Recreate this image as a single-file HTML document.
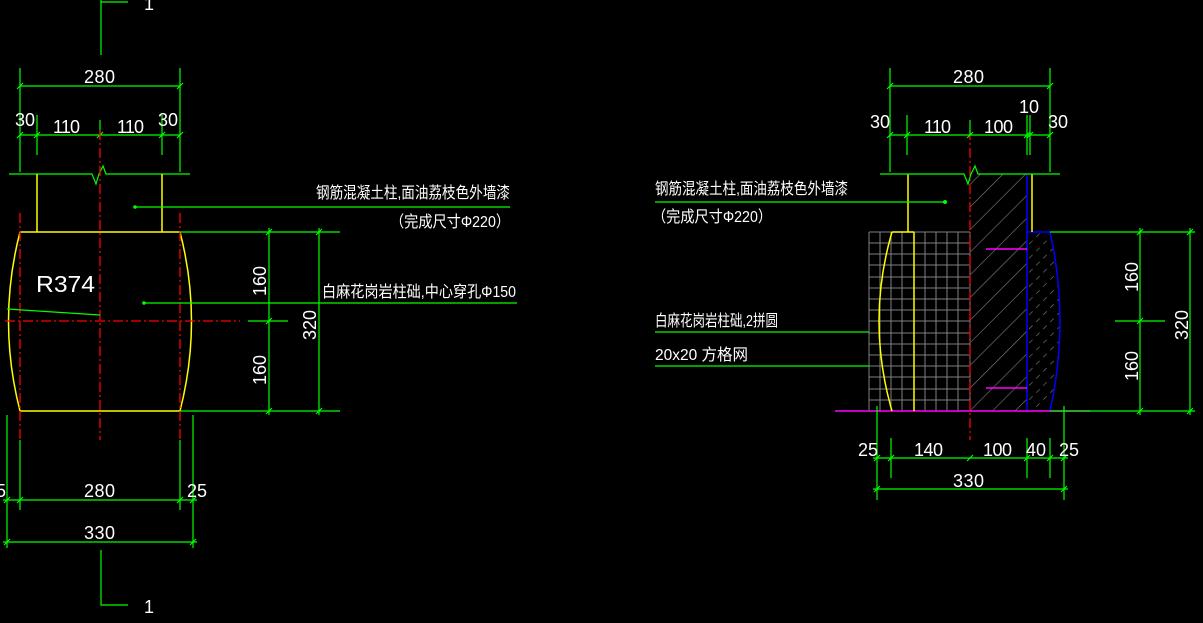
<!DOCTYPE html>
<html><head><meta charset="utf-8"><style>
html,body{margin:0;padding:0;background:#000;}
svg{display:block}
text{fill:#fff;font-family:"Liberation Sans","Noto Sans CJK SC",sans-serif;}
.g{stroke:#00ff00;stroke-width:1.2;fill:none}
.y{stroke:#ffff00;stroke-width:1.5;fill:none}
.r{stroke:#ff0000;stroke-width:1.3;fill:none;stroke-dasharray:10,3,2,3}
.gr{stroke:#808080;stroke-width:1;fill:none}
.b{stroke:#0000ff;stroke-width:1.5;fill:none}
.m{stroke:#ff00ff;stroke-width:1.5;fill:none}
.t{font-size:18px}
.c{font-size:16px}
</style></head><body>
<svg width="1203" height="623" viewBox="0 0 1203 623" xmlns="http://www.w3.org/2000/svg">
<defs>
<pattern id="h" width="16" height="16" patternUnits="userSpaceOnUse" patternTransform="rotate(45)">
<line x1="0" y1="0" x2="0" y2="16" stroke="#808080" stroke-width="1.2"/>
</pattern>
<pattern id="h2" width="10" height="10" patternUnits="userSpaceOnUse" patternTransform="rotate(45)">
<line x1="0" y1="0" x2="0" y2="5" stroke="#808080" stroke-width="1.2"/>
</pattern>
</defs>
<!-- LEFT DRAWING -->
<path class="g" d="M101 0V55M101 2H128M101 550V605H128"/>
<text x="144" y="10" class="t">1</text>
<text x="144" y="613" class="t">1</text>
<path class="g" d="M20 68V172M180 68V172M20 86H180M37 115V155M162 115V155M20 135H180M100 120V135"/>
<path class="g" d="M17 89l6-6M177 89l6-6M17 138l6-6M34 138l6-6M97 138l6-6M159 138l6-6M177 138l6-6"/>
<text x="84" y="83" class="t" textLength="31">280</text>
<text x="15" y="126" class="t">30</text>
<text x="53" y="133" class="t" textLength="27">110</text>
<text x="117" y="133" class="t" textLength="27">110</text>
<text x="158" y="126" class="t">30</text>
<path class="g" d="M9 174H92l4 10 3-10 4-8 3 8H190"/>
<path class="y" d="M37 174V232M162 174V232M20 232H180M20 411H180"/>
<path class="y" d="M20 232Q-3 321 20 411M180 232Q203 321 180 411"/>
<path class="r" d="M100 130V440M20 213V440M180 213V440M5 321H240"/>
<text x="36" y="292" style="font-size:23px" textLength="59" lengthAdjust="spacingAndGlyphs">R374</text>
<path class="g" d="M7 309L100 315"/>
<circle cx="135" cy="207" r="1.8" fill="#0f0"/>
<path class="g" d="M135 207H510"/>
<text x="316" y="198" class="c" textLength="194" lengthAdjust="spacingAndGlyphs">钢筋混凝土柱,面油荔枝色外墙漆</text>
<text x="390" y="227" class="c" textLength="120" lengthAdjust="spacingAndGlyphs">（完成尺寸Φ220）</text>
<circle cx="144" cy="303" r="1.8" fill="#0f0"/>
<path class="g" d="M144 303H517"/>
<text x="322" y="297" class="c" textLength="194" lengthAdjust="spacingAndGlyphs">白麻花岗岩柱础,中心穿孔Φ150</text>
<path class="g" d="M180 232H340M180 411H340M269 228V415M319 228V415M248 321H288"/>
<path class="g" d="M266 235l6-6M316 235l6-6M266 324l6-6M266 414l6-6M316 414l6-6"/>
<text transform="translate(266,296) rotate(-90)" class="t">160</text>
<text transform="translate(266,385) rotate(-90)" class="t">160</text>
<text transform="translate(316,340) rotate(-90)" class="t">320</text>
<path class="g" d="M7 415V548M193 415V548M20 440V510M180 440V510M3 500H197M3 542H197"/>
<path class="g" d="M4 503l6-6M17 503l6-6M177 503l6-6M190 503l6-6M4 545l6-6M190 545l6-6"/>
<text x="-4" y="497" class="t">5</text>
<text x="84" y="497" class="t" textLength="31">280</text>
<text x="187" y="497" class="t">25</text>
<text x="84" y="539" class="t" textLength="31">330</text>
<!-- RIGHT DRAWING -->
<g class="gr">
<path d="M869 232V411M880 232V411M891 232V411M902 232V411M914 232V411M925 232V411M936 232V411M947 232V411M958 232V411M970 232V411"/>
<path d="M869 232H970M869 243H970M869 254H970M869 265H970M869 277H970M869 288H970M869 299H970M869 310H970M869 321H970M869 333H970M869 344H970M869 355H970M869 366H970M869 377H970M869 389H970M869 400H970M869 411H970"/>
</g>
<rect x="970" y="174" width="57" height="237" fill="url(#h)"/>
<path d="M1027 232H1050Q1070 321 1050 411H1027Z" fill="url(#h2)"/>
<path class="b" d="M1027 174V411M1027 232H1050Q1070 321 1050 411"/>
<path class="m" d="M835 411H1090M986 249H1027M986 388H1027"/>
<path class="y" d="M908 174V232M1032 174V232M892 232H914M914 232V411M892 232Q866 321 892 411"/>
<path class="r" d="M970 130V440"/>
<path class="g" d="M890 68V172M1050 68V172M890 86H1050M907 115V155M1027 115V155M1030 115V155M890 135H1050M970 120V135"/>
<path class="g" d="M887 89l6-6M1047 89l6-6M887 138l6-6M904 138l6-6M967 138l6-6M1024 138l6-6M1027 138l6-6M1047 138l6-6"/>
<text x="953" y="83" class="t" textLength="31">280</text>
<text x="870" y="128" class="t">30</text>
<text x="924" y="133" class="t" textLength="27">110</text>
<text x="984" y="133" class="t" textLength="29">100</text>
<text x="1019" y="113" class="t">10</text>
<text x="1048" y="128" class="t">30</text>
<path class="g" d="M880 174H964l4 10 3-10 4-8 3 8H1060"/>
<text x="655" y="194" class="c" textLength="193" lengthAdjust="spacingAndGlyphs">钢筋混凝土柱,面油荔枝色外墙漆</text>
<path class="g" d="M655 202H945"/>
<circle cx="945" cy="202" r="2" fill="#0f0"/>
<text x="652" y="222" class="c" textLength="120" lengthAdjust="spacingAndGlyphs">（完成尺寸Φ220）</text>
<text x="655" y="326" class="c" textLength="123" lengthAdjust="spacingAndGlyphs">白麻花岗岩柱础,2拼圆</text>
<path class="g" d="M655 332H869M655 366H869"/>
<text x="655" y="360" class="c" textLength="93" lengthAdjust="spacingAndGlyphs">20x20 方格网</text>
<path class="g" d="M1050 232H1195M1050 411H1195M1140 228V415M1190 228V415M1115 321H1165"/>
<path class="g" d="M1137 235l6-6M1187 235l6-6M1137 324l6-6M1137 414l6-6M1187 414l6-6"/>
<text transform="translate(1138,292) rotate(-90)" class="t">160</text>
<text transform="translate(1138,381) rotate(-90)" class="t">160</text>
<text transform="translate(1188,340) rotate(-90)" class="t">320</text>
<path class="g" d="M877 406V500M1064 406V500M891 438V478M1050 438V478M1027 438V478M873 458H1068M873 489H1068"/>
<path class="g" d="M874 461l6-6M888 461l6-6M967 461l6-6M1024 461l6-6M1047 461l6-6M1061 461l6-6M874 492l6-6M1061 492l6-6"/>
<text x="858" y="456" class="t">25</text>
<text x="914" y="456" class="t" textLength="29">140</text>
<text x="983" y="456" class="t" textLength="29">100</text>
<text x="1026" y="456" class="t">40</text>
<text x="1059" y="456" class="t">25</text>
<text x="953" y="487" class="t" textLength="31">330</text>
</svg>
</body></html>
